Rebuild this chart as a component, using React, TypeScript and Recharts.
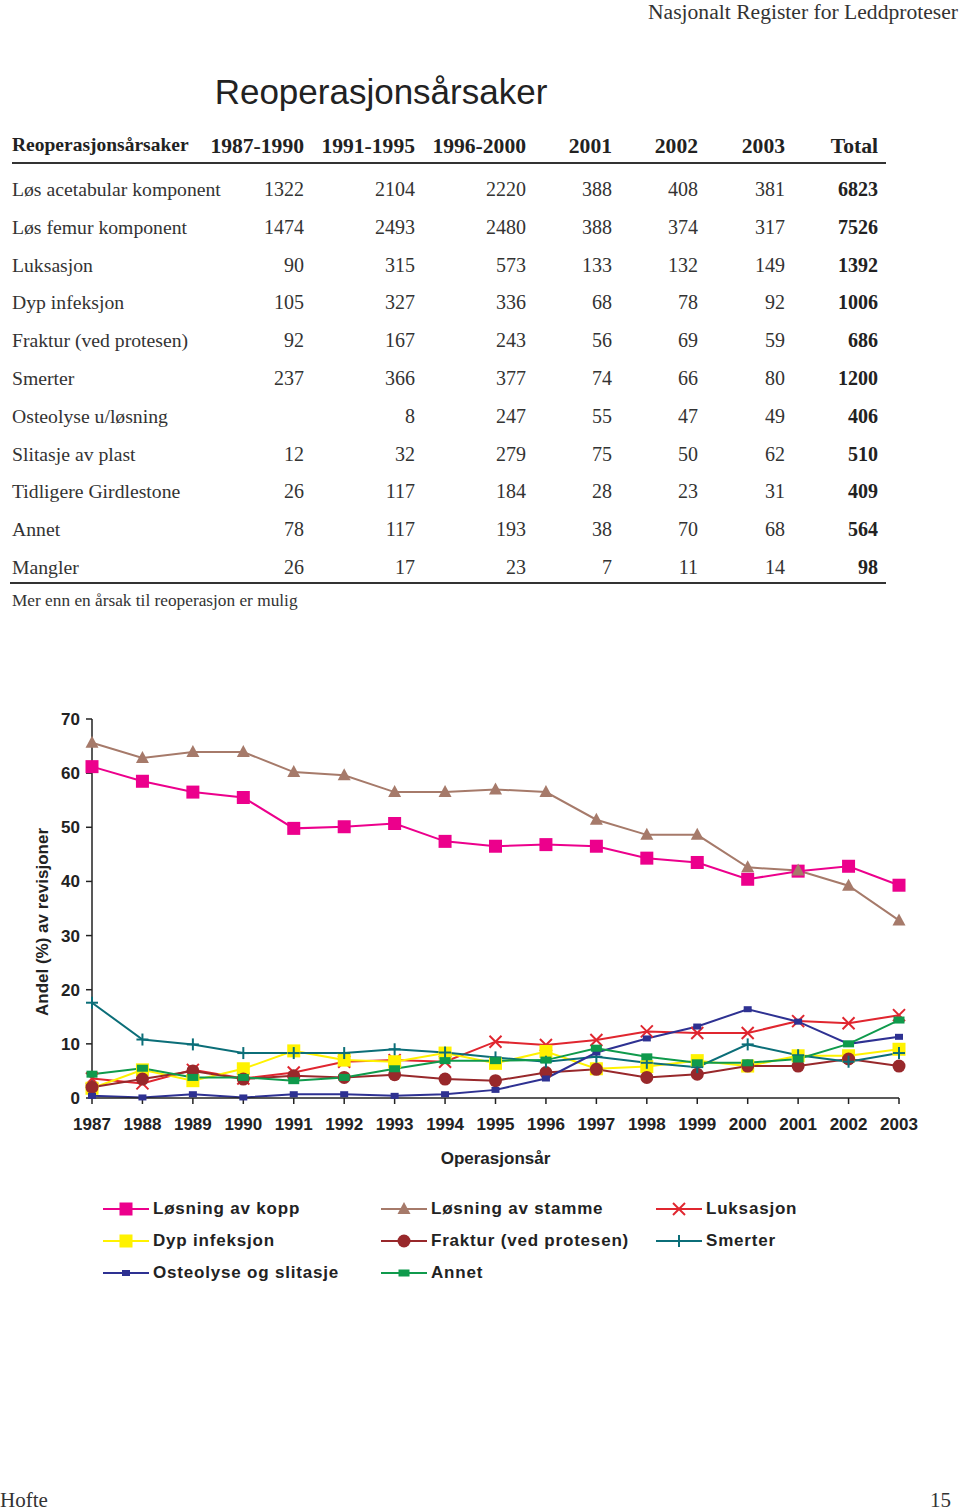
import React from "react";
import { LineChart, Line, XAxis, YAxis } from "recharts";

// table
const causes = [
  "Løs acetabular komponent",
  "Løs femur komponent",
  "Luksasjon",
  "Dyp infeksjon",
  "Fraktur (ved protesen)",
  "Smerter",
  "Osteolyse u/løsning",
  "Slitasje av plast",
  "Tidligere Girdlestone",
  "Annet",
  "Mangler",
];
const periodHeaders = ["1987-1990", "1991-1995", "1996-2000", "2001", "2002", "2003", "Total"];
const p1987_1990 = [1322, 1474, 90, 105, 92, 237, null, 12, 26, 78, 26];
const p1991_1995 = [2104, 2493, 315, 327, 167, 366, 8, 32, 117, 117, 17];
const p1996_2000 = [2220, 2480, 573, 336, 243, 377, 247, 279, 184, 193, 23];
const y2001 = [388, 388, 133, 68, 56, 74, 55, 75, 28, 38, 7];
const y2002 = [408, 374, 132, 78, 69, 66, 47, 50, 23, 70, 11];
const y2003 = [381, 317, 149, 92, 59, 80, 49, 62, 31, 68, 14];
const totals = [6823, 7526, 1392, 1006, 686, 1200, 406, 510, 409, 564, 98];

// chart
const years = [1987, 1988, 1989, 1990, 1991, 1992, 1993, 1994, 1995, 1996, 1997, 1998, 1999, 2000, 2001, 2002, 2003];
const losningKopp = [61.2, 58.5, 56.5, 55.5, 49.8, 50.1, 50.7, 47.4, 46.5, 46.8, 46.5, 44.3, 43.5, 40.4, 41.9, 42.8, 39.3];
const losningStamme = [65.6, 62.8, 63.9, 63.9, 60.2, 59.6, 56.5, 56.5, 57.0, 56.5, 51.4, 48.6, 48.6, 42.6, 42.0, 39.2, 32.8];
const luksasjon = [3.6, 2.7, 5.2, 3.6, 4.7, 6.7, 7.0, 6.7, 10.4, 9.8, 10.7, 12.3, 12.0, 12.0, 14.2, 13.8, 15.3];
const dypInfeksjon = [1.8, 5.2, 3.2, 5.4, 8.7, 7.0, 6.7, 8.3, 6.4, 8.6, 5.4, 5.8, 6.9, 5.9, 7.8, 7.8, 9.0];
const fraktur = [2.0, 3.5, 5.0, 3.5, 4.1, 3.8, 4.3, 3.5, 3.2, 4.7, 5.3, 3.8, 4.4, 5.9, 5.9, 7.2, 5.9];
const smerter = [17.6, 10.8, 9.9, 8.3, 8.3, 8.3, 9.0, 8.4, 7.5, 6.7, 7.6, 6.5, 5.7, 9.9, 7.9, 6.7, 8.3];
const osteolyse = [0.4, 0.1, 0.7, 0.1, 0.7, 0.7, 0.4, 0.7, 1.5, 3.6, 8.4, 11.0, 13.2, 16.4, 14.1, 10.0, 11.3];
const annet = [4.4, 5.5, 3.8, 3.8, 3.2, 3.8, 5.4, 6.9, 6.9, 7.0, 9.2, 7.6, 6.5, 6.5, 7.2, 10.0, 14.4];
const yTicks = [0, 10, 20, 30, 40, 50, 60, 70];

const data = years.map((year, i) => ({
  year,
  kopp: losningKopp[i],
  stamme: losningStamme[i],
  luks: luksasjon[i],
  dyp: dypInfeksjon[i],
  fraktur: fraktur[i],
  smerter: smerter[i],
  osteo: osteolyse[i],
  annet: annet[i],
}));

type MarkerKind = "square" | "triangle" | "cross" | "circle" | "plus" | "smallSquare" | "rect";

const SERIES: { key: string; name: string; color: string; marker: MarkerKind }[] = [
  { key: "kopp", name: "Løsning av kopp", color: "#EC008C", marker: "square" },
  { key: "stamme", name: "Løsning av stamme", color: "#A67A6A", marker: "triangle" },
  { key: "luks", name: "Luksasjon", color: "#E0262F", marker: "cross" },
  { key: "dyp", name: "Dyp infeksjon", color: "#FFF200", marker: "square" },
  { key: "fraktur", name: "Fraktur (ved protesen)", color: "#98282B", marker: "circle" },
  { key: "smerter", name: "Smerter", color: "#0B6E78", marker: "plus" },
  { key: "osteo", name: "Osteolyse og slitasje", color: "#2E3192", marker: "smallSquare" },
  { key: "annet", name: "Annet", color: "#0F9A4C", marker: "rect" },
];

const SANS = "'Liberation Sans', Arial, sans-serif";
const SERIF = "'Liberation Serif', 'Times New Roman', serif";

const Marker = ({ kind, color, cx, cy }: { kind: MarkerKind; color: string; cx: number; cy: number }) => {
  switch (kind) {
    case "square":
      return <rect x={cx - 6.5} y={cy - 6.5} width={13} height={13} fill={color} />;
    case "triangle":
      return <polygon points={`${cx},${cy - 7} ${cx + 6.5},${cy + 5} ${cx - 6.5},${cy + 5}`} fill={color} />;
    case "cross":
      return (
        <g stroke={color} strokeWidth={2}>
          <line x1={cx - 6} y1={cy - 6} x2={cx + 6} y2={cy + 6} />
          <line x1={cx - 6} y1={cy + 6} x2={cx + 6} y2={cy - 6} />
        </g>
      );
    case "circle":
      return <circle cx={cx} cy={cy} r={6.5} fill={color} />;
    case "plus":
      return (
        <g stroke={color} strokeWidth={2}>
          <line x1={cx - 6} y1={cy} x2={cx + 6} y2={cy} />
          <line x1={cx} y1={cy - 6} x2={cx} y2={cy + 6} />
        </g>
      );
    case "smallSquare":
      return <rect x={cx - 4} y={cy - 3} width={8} height={6} fill={color} />;
    case "rect":
      return <rect x={cx - 5.5} y={cy - 3.5} width={11} height={7} fill={color} />;
  }
};

const makeDot = (kind: MarkerKind, color: string) => (props: any) => {
  const { cx, cy, index } = props;
  if (cx == null || cy == null) return <g key={index} />;
  return (
    <g key={index}>
      <Marker kind={kind} color={color} cx={cx} cy={cy} />
    </g>
  );
};

const abs = (top: number, left: number, extra: React.CSSProperties = {}): React.CSSProperties => ({
  position: "absolute",
  top,
  left,
  whiteSpace: "nowrap",
  ...extra,
});

const colRight = [304, 415, 526, 612, 698, 785, 878];
const tableCols = [p1987_1990, p1991_1995, p1996_2000, y2001, y2002, y2003, totals];

const App = () => {
  const rowTop = (i: number) => 179 + i * 37.8;
  return (
    <div style={{ position: "absolute", top: 0, left: 0, width: 960, height: 1511, background: "#fff", overflow: "hidden" }}>
      <div style={abs(1, 0, { width: 958, textAlign: "right", fontFamily: SERIF, fontSize: 21.6, lineHeight: "22px", color: "#333" })}>
        Nasjonalt Register for Leddproteser
      </div>
      <div style={abs(74, 0, { width: 762, textAlign: "center", fontFamily: SANS, fontSize: 35, lineHeight: "35px", color: "#222" })}>
        Reoperasjonsårsaker
      </div>

      {/* table header */}
      <div style={abs(135, 12, { fontFamily: SERIF, fontSize: 19.5, fontWeight: "bold", lineHeight: "20px", color: "#222" })}>
        Reoperasjonsårsaker
      </div>
      {periodHeaders.map((h, c) => (
        <div
          key={h}
          style={abs(136, colRight[c] - 120, { width: 120, textAlign: "right", fontFamily: SERIF, fontSize: 21.6, fontWeight: "bold", lineHeight: "21px", color: "#222" })}
        >
          {h}
        </div>
      ))}
      <div style={abs(162, 12, { width: 874, height: 2, background: "#333" })} />

      {causes.map((name, i) => (
        <React.Fragment key={name}>
          <div style={abs(rowTop(i), 12, { fontFamily: SERIF, fontSize: 19.7, lineHeight: "20px", color: "#333" })}>{name}</div>
          {tableCols.map((col, c) => (
            <div
              key={c}
              style={abs(rowTop(i), colRight[c] - 100, {
                width: 100,
                textAlign: "right",
                fontFamily: SERIF,
                fontSize: 20,
                lineHeight: "20px",
                fontWeight: c === 6 ? "bold" : "normal",
                color: c === 6 ? "#222" : "#333",
              })}
            >
              {col[i] == null ? "" : col[i]}
            </div>
          ))}
        </React.Fragment>
      ))}
      <div style={abs(582, 10, { width: 876, height: 2, background: "#333" })} />
      <div style={abs(592, 12, { fontFamily: SERIF, fontSize: 17.3, lineHeight: "18px", color: "#333" })}>
        Mer enn en årsak til reoperasjon er mulig
      </div>

      {/* chart */}
      <div style={abs(680, 0)}>
        <LineChart width={960} height={500} data={data} margin={{ top: 39, right: 61, bottom: 32, left: 32 }}>
          <XAxis
            dataKey="year"
            type="number"
            domain={[1987, 2003]}
            ticks={years}
            interval={0}
            height={50}
            tickSize={6}
            tickMargin={14}
            stroke="#222"
            strokeWidth={1.5}
            tick={{ fill: "#222", fontSize: 17, fontWeight: "bold", fontFamily: SANS }}
            label={{
              content: () => (
                <text x={495.5} y={484} textAnchor="middle" fill="#222" fontSize={17} fontWeight="bold" fontFamily={SANS}>
                  Operasjonsår
                </text>
              ),
            }}
          />
          <YAxis
            domain={[0, 70]}
            ticks={yTicks}
            width={60}
            tickSize={6}
            tickMargin={6}
            stroke="#222"
            strokeWidth={1.5}
            tick={{ fill: "#222", fontSize: 17, fontWeight: "bold", fontFamily: SANS }}
            label={{
              content: () => (
                <text
                  x={48}
                  y={242}
                  transform="rotate(-90 48 242)"
                  textAnchor="middle"
                  fill="#222"
                  fontSize={17}
                  fontWeight="bold"
                  fontFamily={SANS}
                >
                  Andel (%) av revisjoner
                </text>
              ),
            }}
          />
          {SERIES.map((s) => (
            <Line
              key={s.key}
              dataKey={s.key}
              name={s.name}
              type="linear"
              stroke={s.color}
              strokeWidth={2}
              dot={makeDot(s.marker, s.color)}
              activeDot={false}
              isAnimationActive={false}
            />
          ))}
        </LineChart>
      </div>

      {/* legend */}
      {SERIES.map((s, i) => {
        const col = i % 3;
        const row = Math.floor(i / 3);
        const lineLeft = [103, 381, 656][col];
        const top = 1200 + row * 32;
        return (
          <React.Fragment key={s.key}>
            <svg style={abs(top + 1, lineLeft)} width={46} height={16}>
              <line x1={0} y1={8} x2={46} y2={8} stroke={s.color} strokeWidth={2} />
              <Marker kind={s.marker} color={s.color} cx={23} cy={8} />
            </svg>
            <div
              style={abs(top, lineLeft + 50, {
                fontFamily: SANS,
                fontSize: 17,
                fontWeight: "bold",
                lineHeight: "18px",
                letterSpacing: 0.8,
                color: "#222",
              })}
            >
              {s.name}
            </div>
          </React.Fragment>
        );
      })}

      <div style={abs(1490, 0, { fontFamily: SERIF, fontSize: 21, lineHeight: "21px", color: "#333" })}>Hofte</div>
      <div style={abs(1490, 0, { width: 951, textAlign: "right", fontFamily: SERIF, fontSize: 21, lineHeight: "21px", color: "#333" })}>
        15
      </div>
    </div>
  );
};

export default App;
